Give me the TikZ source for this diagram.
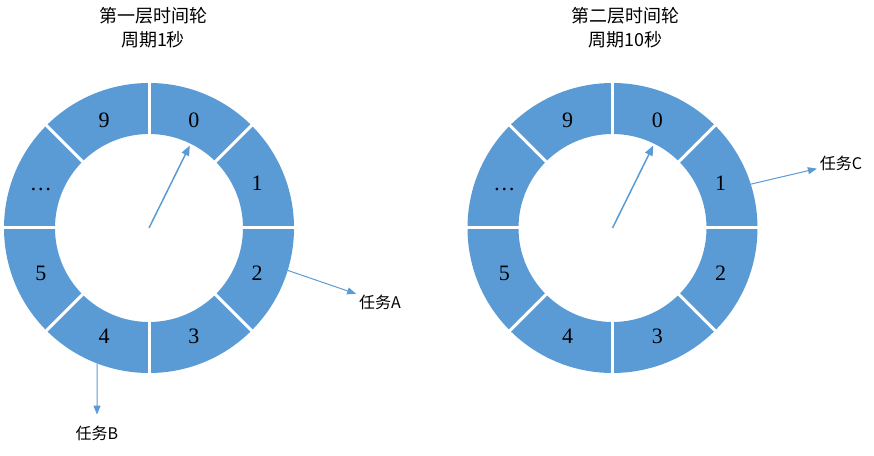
\documentclass[tikz,border=0pt]{standalone}
\usepackage{fontspec}
\setmainfont{Liberation Serif}
\newfontfamily\cjk{Noto Sans CJK SC}
\usetikzlibrary{arrows.meta}
\definecolor{slotblue}{HTML}{5B9BD5}
\begin{document}
\begin{tikzpicture}[x=1pt,y=1pt,
    slot/.style={font=\fontsize{22}{22}\selectfont,text height=15pt,text depth=0pt},
    title/.style={align=center,font=\cjk\fontsize{18}{24}\selectfont},
    task/.style={font=\cjk\fontsize{16}{16}\selectfont,inner sep=1pt,outer sep=2pt},
    hand/.style={draw=slotblue,line width=1.5pt,-{Triangle[length=10pt,width=8pt]}},
    link/.style={draw=slotblue,line width=1pt,-{Triangle[length=9pt,width=7pt]}}]
  \useasboundingbox (0,0) rectangle (874,455);
  \coordinate (w1) at (149,227);
  \coordinate (w2) at (612.5,227);
  % the two wheels, eight slots each
  \foreach \w in {w1,w2} {
    \fill[slotblue,even odd rule] (\w) circle (145) (\w) circle (94);
    \foreach \a in {0,45,...,315}
      \draw[white,line width=3pt] (\w) ++(\a:92) -- ++(\a:56);
    \foreach \lbl [count=\i from 0] in {0,1,2,3,4,5,\dots,9}
      \path (\w) ++(67.5-45*\i:117) node[slot] (\w-\i) {\lbl};
    \path (\w) ++(63.7:92) coordinate (\w-hand);
    \draw[hand] (\w) -- (\w-hand);
  }
  \node[title] (t1) at (153,427) {第一层时间轮\\周期1秒};
  \node[title] (t2) at (625,427) {第二层时间轮\\周期10秒};
  % tasks hanging on slots
  \path (w1) ++(-17:145) coordinate (sa);
  \path (w1) ++(-111:145) coordinate (sb);
  \path (w2) ++(17.6:145) coordinate (sc);
  \node[task] (ta) at (380,153) {任务A};
  \node[task] (tb) at (97,22) {任务B};
  \node[task] (tc) at (841,292) {任务C};
  \draw[link] (sa) -- (ta);
  \draw[link,shorten >=8pt] (sb) -- (tb);
  \draw[link] (sc) -- (tc);
\end{tikzpicture}
\end{document}
